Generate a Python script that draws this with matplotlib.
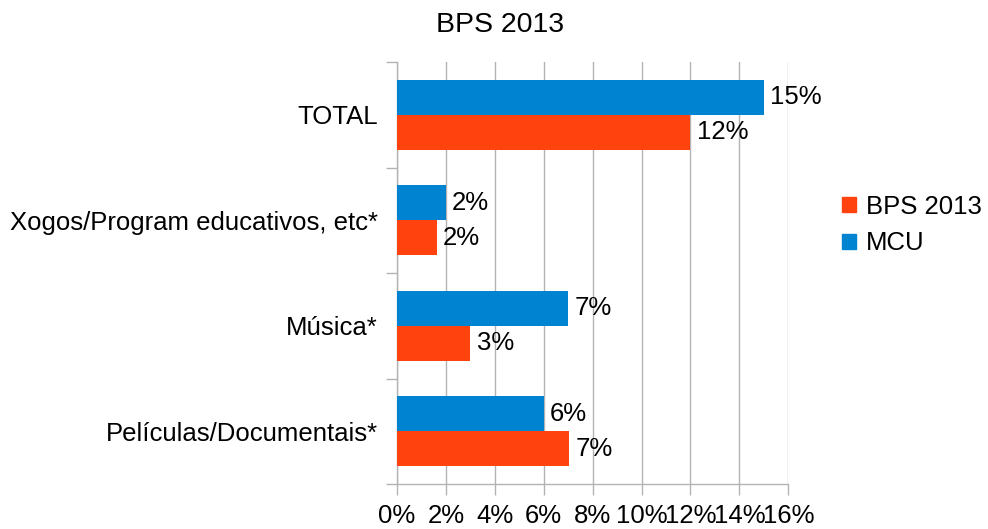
import matplotlib
matplotlib.use("Agg")
import matplotlib.pyplot as plt
import numpy as np
from matplotlib.patches import Patch

categories = ["TOTAL", "Xogos/Program educativos, etc*", "Música*", "Películas/Documentais*"]
mcu = [15.0, 2.0, 7.0, 6.0]
bps = [12.0, 1.63, 3.0, 7.05]
xticks = [0, 2, 4, 6, 8, 10, 12, 14, 16]
xticklabels = ["0%", "2%", "4%", "6%", "8%", "10%", "12%", "14%", "16%"]

plt.rcParams['font.family'] = ['Liberation Sans', 'DejaVu Sans']

blue = "#0084d1"
red = "#ff420e"
grid = "#b3b3b3"
fs = 18.5

fig = plt.figure(figsize=(9.88, 5.29), dpi=100)
ax = fig.add_axes([397/988, 1-484/529, (788.3-397)/988, (484-62)/529])

y = np.arange(len(categories))
h = 1/3
ax.barh(y - h/2, mcu, height=h, color=blue, zorder=3)
ax.barh(y + h/2, bps, height=h, color=red, zorder=3)

for yi, v in zip(y, mcu):
    ax.annotate(f"{v:.0f}%", (v, yi - h/2), xytext=(4.5, 0), textcoords="offset points",
                va="center", ha="left", fontsize=fs)
for yi, v in zip(y, bps):
    ax.annotate(f"{v:.0f}%", (v, yi + h/2), xytext=(4.5, 0), textcoords="offset points",
                va="center", ha="left", fontsize=fs)

ax.set_xlim(0, 16)
ax.set_ylim(len(categories) - 0.5, -0.5)
ax.set_xticks(xticks)
ax.set_xticklabels(xticklabels, fontsize=fs)
ax.set_yticks(y)
ax.set_yticklabels(categories, fontsize=fs)
ax.set_yticks(np.arange(len(categories) + 1) - 0.5, minor=True)
ax.tick_params(axis='y', which='major', length=0, pad=14)
ax.tick_params(axis='y', which='minor', length=8, color=grid, width=1)
ax.tick_params(axis='x', which='major', length=8, color=grid, width=1, pad=6.5)

ax.grid(axis='x', color=grid, linewidth=1, zorder=0)
for s in ['top', 'right']:
    ax.spines[s].set_visible(False)
for s in ['left', 'bottom']:
    ax.spines[s].set_color(grid)
    ax.spines[s].set_linewidth(1)

fig.text(500/988, 1-25/529, "BPS 2013", ha="center", va="center", fontsize=20.5)

handles = [Patch(color=red, label="BPS 2013"), Patch(color=blue, label="MCU")]
fig.legend(handles=handles, loc="center left", bbox_to_anchor=(842/988, 1-225/529),
           frameon=False, fontsize=fs, handlelength=0.55, handleheight=0.55,
           handletextpad=0.38, labelspacing=0.5, borderpad=0, borderaxespad=0)

fig.savefig("out.png", dpi=100)
